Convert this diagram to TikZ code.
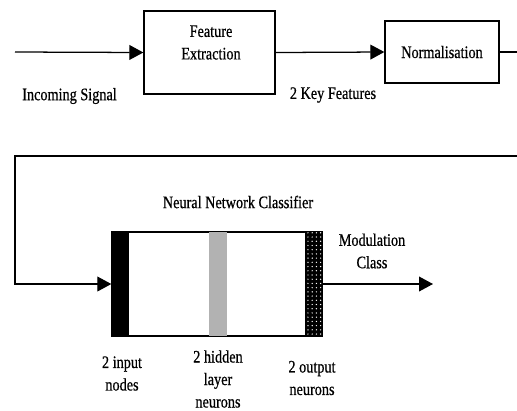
\documentclass[tikz,border=0pt]{standalone}
\usepackage{fontspec}
\setmainfont{Liberation Serif}[FakeStretch=0.81, FakeBold=0.6]
\usetikzlibrary{arrows.meta, patterns}

\begin{document}
\begin{tikzpicture}[x=0.025cm, y=-0.025cm, line width=0.9pt,
    font=\fontsize{12.5}{16}\selectfont,
    >={Triangle[length=3.5mm, width=3.7mm]},
    blockbox/.style={draw, rectangle, inner sep=0pt},
    txt/.style={align=center, inner sep=0pt},
    layerbar/.style={rectangle, inner sep=0pt, minimum width=0.425cm, minimum height=2.6cm}]
    \useasboundingbox (0,0) rectangle (517,410);

    % --- Ligne du haut : extraction et normalisation ---
    \coordinate (sig) at (15,52);
    \node[blockbox, minimum width=3.275cm, minimum height=2.075cm] (fe) at (209.5,52.5) {};
    \node[txt] (fetext) at (211,42.5) {Feature\\Extraction};
    \node[blockbox, minimum width=2.85cm, minimum height=1.55cm] (norm) at (442,52) {Normalisation};
    \coordinate (normout) at (517,52);

    \draw[->] (sig) -- (fe.west);
    \draw[->] (fe.east) -- (norm.west);
    \draw (norm.east) -- (normout);

    \node[txt] (insig) at (69.5,96) {Incoming Signal};
    \node[txt] (keyf) at (333,95) {2 Key Features};

    % --- Retour vers le classifieur ---
    \node[blockbox, minimum width=5.25cm, minimum height=2.6cm] (nnc) at (217,284) {};
    \coordinate (ret1) at (517,156);
    \coordinate (ret2) at (15,156);
    \draw[->] (ret1) -- (ret2) |- (nnc.west);

    % --- Couches du reseau ---
    \node[layerbar, fill=black, anchor=west] (inl) at (nnc.west) {};
    \node[layerbar, fill=gray!60, minimum width=0.45cm] (hidl) at (218,284) {};
    \node[layerbar, fill=black, anchor=east] (outl) at (nnc.east) {};
    \fill[pattern=dots, pattern color=white] (outl.north west) rectangle (outl.south east);
    \draw (nnc.north west) rectangle (nnc.south east);

    \node[txt] (nnctext) at (238,202) {Neural Network Classifier};

    % --- Sortie ---
    \coordinate (modout) at (433,284);
    \draw[->] (nnc.east) -- (modout);
    \node[txt] (modcl) at (372,251) {Modulation\\Class};

    % --- Legendes des couches ---
    \node[txt] (inltext) at (122,373.5) {2 input\\nodes};
    \node[txt] (hidltext) at (218,379) {2 hidden\\layer\\neurons};
    \node[txt] (outltext) at (312,378) {2 output\\neurons};
\end{tikzpicture}
\end{document}
